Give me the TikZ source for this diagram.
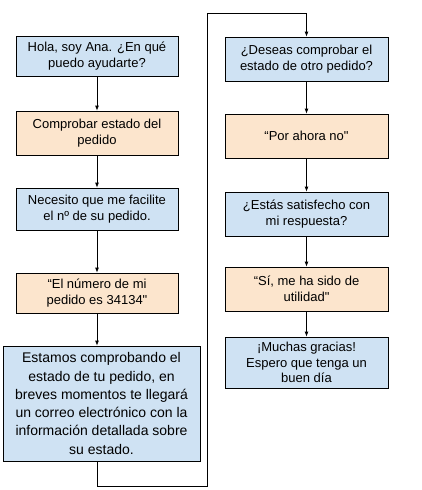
\documentclass[tikz,border=0pt]{standalone}
\usepackage{fontspec}
\newfontfamily\chatfont{Liberation Sans}[Ligatures=TeXOff]
\usetikzlibrary{arrows.meta}
\definecolor{botblue}{HTML}{CFE2F3}
\definecolor{userorange}{HTML}{FCE5CD}
\tikzset{
  chat/.style={draw=black, line width=0.8pt, inner sep=0pt, align=center,
    font=\chatfont\fontsize{13}{15.5}\selectfont},
  bot/.style={chat, fill=botblue},
  user/.style={chat, fill=userorange},
  flow/.style={draw=black, line width=0.8pt, -{Latex[length=5pt,width=4pt]}},
}
\begin{document}
\begin{tikzpicture}[x=1pt,y=-1pt]
\useasboundingbox (0,0) rectangle (421,490);
% left column
\node [bot, minimum width=162, minimum height=40] (hola) at (97,56)
  {Hola, soy Ana. ¿En qué\\puedo ayudarte?};
\node [user, minimum width=162, minimum height=44] (comprobar) at (97,133)
  {Comprobar estado del\\pedido};
\node [bot, minimum width=162, minimum height=42] (necesito) at (97,209)
  {Necesito que me facilite\\el nº de su pedido.};
\node [user, minimum width=162, minimum height=40] (numero) at (97,293)
  {“El número de mi\\pedido es 34134"};
\node [bot, minimum width=197, minimum height=115,
  font=\chatfont\fontsize{14}{18.3}\selectfont] (estamos) at (101.5,403.5)
  {Estamos comprobando el\\estado de tu pedido, en\\breves momentos te llegará\\un correo electrónico con la\\información detallada sobre\\su estado.};
% right column
\node [bot, minimum width=163, minimum height=44] (deseas) at (306.5,59)
  {¿Deseas comprobar el\\estado de otro pedido?};
\node [user, minimum width=163, minimum height=44] (porahora) at (306.5,136)
  {“Por ahora no"};
\node [bot, minimum width=163, minimum height=44] (satisfecho) at (306.5,214)
  {¿Estás satisfecho con\\mi respuesta?};
\node [user, minimum width=163, minimum height=44] (util) at (306.5,289)
  {“Sí, me ha sido de\\utilidad"};
\node [bot, minimum width=163, minimum height=51] (gracias) at (306.5,362.5)
  {¡Muchas gracias!\\Espero que tenga un\\buen día};
% connectors
\draw [flow] (hola) -- (comprobar);
\draw [flow] (comprobar) -- (necesito);
\draw [flow] (necesito) -- (numero);
\draw [flow] (numero.south) -- (numero.south |- estamos.north);
\draw [flow] (numero.south |- estamos.south) -- ++(0,25) -| (207,13) -| (deseas.north);
\draw [flow] (deseas) -- (porahora);
\draw [flow] (porahora) -- (satisfecho);
\draw [flow] (satisfecho) -- (util);
\draw [flow] (util) -- (gracias);
\end{tikzpicture}
\end{document}
